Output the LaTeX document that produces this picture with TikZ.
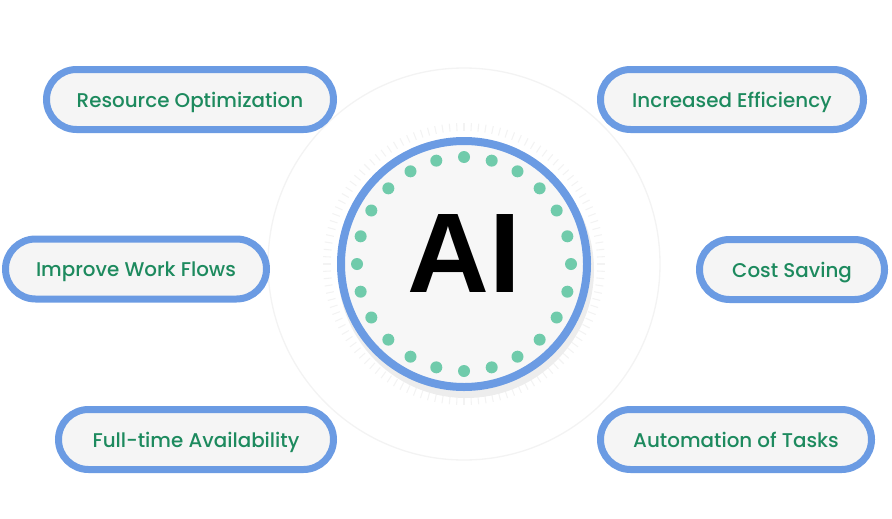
\documentclass[tikz,border=0pt]{standalone}
\usepackage{fontspec}
\setmainfont{Poppins}[UprightFont=* Medium]
\newfontfamily\aifont{Liberation Sans}[UprightFont=* Bold]
\usepackage{tikz}
\usepackage{xcolor}
\usetikzlibrary{calc}

\definecolor{ringblue}{HTML}{6B9BE3}
\definecolor{dotgreen}{HTML}{70CBAB}
\definecolor{txtgreen}{HTML}{1D8A5E}
\definecolor{pillfill}{HTML}{F5F5F5}
\definecolor{faint}{HTML}{F3F3F3}

\tikzset{
    pill/.style={rectangle, draw=ringblue, fill=pillfill, line width=5.25pt,
                 rounded corners=22.5pt, minimum height=45pt,
                 text height=11.5pt, text depth=0pt,
                 text=txtgreen, font=\fontsize{14.9}{16}\selectfont},
    hub/.style={circle, draw=ringblue, fill=white!97!black, line width=6pt,
                minimum size=184.5pt, inner sep=0pt}
}

\begin{document}
\begin{tikzpicture}[x=0.75pt,y=-0.75pt]
        \useasboundingbox (0,0) rectangle (892,518);
        % faint background
        \draw[faint, line width=1pt] (464,264) circle (196);
        \foreach \a in {0,3,...,357}
            \draw[faint, line width=0.8pt] ($(464,264)+(\a:133)$) -- ($(464,264)+(\a:141)$);
        \fill[black!7] (466,270) circle (128);
        % centre
        \node[hub] (ai) at (464,264) {};
        \foreach \a in {0,15,...,345}
            \fill[dotgreen] ($(ai.center)+(\a:107)$) circle (6);
        \node[font=\aifont\fontsize{85}{85}\selectfont] (lbl) at (464,254) {AI};
        % boxes
        \node[pill, minimum width=215.25pt] (res) at (190,99.5)  {Resource Optimization};
        \node[pill, minimum width=195.75pt] (imp) at (136,269)   {Improve Work Flows};
        \node[pill, minimum width=206.25pt] (ful) at (196,439.5) {Full-time Availability};
        \node[pill, minimum width=197.25pt] (inc) at (732,99.5)  {Increased Efficiency};
        \node[pill, minimum width=138.75pt] (cos) at (792,269.5) {Cost Saving};
        \node[pill, minimum width=203.25pt] (aut) at (736,439.5) {Automation of Tasks};
    \end{tikzpicture}
\end{document}
